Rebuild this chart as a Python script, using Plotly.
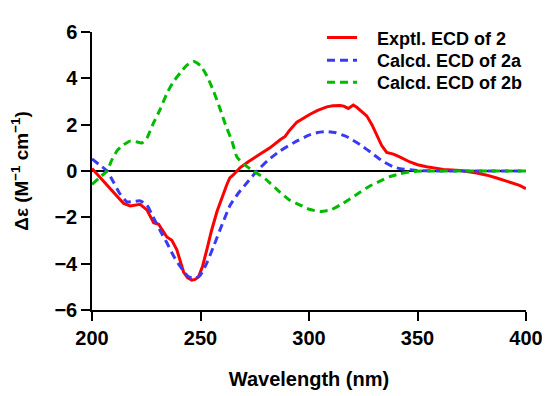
import plotly.graph_objects as go

# Experimental ECD of 2
exp_wl = [200, 203, 206, 210, 214.6, 217.6, 220, 222.2, 225.3, 228.4, 230.7, 234.5, 236.8, 239.1,
          242.2, 244, 246, 247.5, 249.1, 251, 252.9, 255, 257.6, 260, 262.2, 263.5, 265.2, 268.3,
          272, 277.5, 282, 286.7, 289, 291, 294.4, 300.5, 304, 308.2, 311, 314.3, 316, 318.1,
          320.4, 322, 324, 326.6, 329, 331.2, 333.5, 335.8, 338.9, 342, 346.5, 350, 354.2, 361.9,
          369.6, 377.3, 382, 386.5, 390, 394.1, 397, 400]
exp_de = [0.11, -0.2, -0.5, -0.9, -1.4, -1.51, -1.48, -1.44, -1.68, -2.23, -2.3, -2.85, -2.99, -3.4,
          -4.36, -4.6, -4.71, -4.68, -4.57, -4.1, -3.4, -2.6, -1.75, -1.1, -0.57, -0.3, -0.16, 0.15,
          0.4, 0.73, 1.0, 1.35, 1.49, 1.75, 2.11, 2.45, 2.62, 2.77, 2.82, 2.83, 2.8, 2.70,
          2.85, 2.75, 2.6, 2.38, 2.0, 1.56, 1.1, 0.80, 0.73, 0.6, 0.39, 0.27, 0.18, 0.07,
          0.02, -0.09, -0.18, -0.3, -0.4, -0.51, -0.62, -0.76]

# Calculated ECD of 2a
a_wl = [200, 203, 206.9, 210, 213, 216.1, 219, 222.2, 225.3, 228, 231.4, 234.5, 237.6, 240.5,
        243.7, 245.5, 247.6, 249.9, 253, 256, 260, 263.7, 267.5, 271.4, 276, 281, 286.7, 292.8,
        300, 304, 308.2, 312, 317, 323.5, 330, 334, 338.9, 342, 346.5, 350, 360, 370, 380, 390, 400]
a_de = [0.52, 0.3, 0.0, -0.5, -1.0, -1.33, -1.32, -1.29, -1.47, -1.95, -2.57, -3.1, -3.67, -4.1,
        -4.5, -4.6, -4.64, -4.5, -3.95, -3.26, -2.3, -1.47, -0.95, -0.51, 0.0, 0.45, 0.87, 1.21,
        1.55, 1.66, 1.70, 1.66, 1.5, 1.14, 0.7, 0.42, 0.18, 0.1, 0.05, 0.02, 0, 0, 0, 0, 0]

# Calculated ECD of 2b
b_wl = [200, 203.5, 206.9, 209, 211.5, 214, 217.6, 220, 223, 225.3, 228, 231.4, 234.5, 237.5,
        240.7, 243.5, 246.8, 250, 252.9, 256, 259.1, 261.5, 264.5, 266.8, 270.5, 274.4, 280,
        286.7, 291, 295.9, 300, 305.1, 310, 314.3, 319, 323.5, 328, 332.7, 337, 341.9, 348, 355,
        360, 370, 380, 390, 400]
b_de = [-0.58, -0.28, 0.0, 0.45, 0.87, 1.1, 1.29, 1.27, 1.21, 1.42, 2.0, 2.66, 3.35, 3.85,
        4.24, 4.55, 4.73, 4.55, 4.11, 3.45, 2.66, 2.0, 1.29, 0.60, 0.25, 0.0, -0.35,
        -0.92, -1.25, -1.47, -1.65, -1.75, -1.68, -1.47, -1.2, -0.92, -0.65, -0.44, -0.25, -0.12, -0.02, 0,
        0, 0, 0, 0, 0]

x_ticks = [200, 250, 300, 350, 400]
y_ticks = [-6, -4, -2, 0, 2, 4, 6]
y_ticklabels = ["\u22126", "\u22124", "\u22122", "0", "2", "4", "6"]

FONT = "Liberation Sans, Arial, Helvetica, sans-serif"
pad = "\u00a0\u00a0\u00a0"

fig = go.Figure()
fig.add_trace(go.Scatter(x=exp_wl, y=exp_de, mode="lines", name=pad + "Exptl. ECD of 2", legend="legend",
                         line=dict(color="#ff0000", width=3)))
fig.add_trace(go.Scatter(x=a_wl, y=a_de, mode="lines", name=pad + "Calcd. ECD of 2a", legend="legend2",
                         line=dict(color="#3a3af5", width=3, dash="8px,5px", shape="spline", smoothing=0.5)))
fig.add_trace(go.Scatter(x=b_wl, y=b_de, mode="lines", name=pad + "Calcd. ECD of 2b", legend="legend3",
                         line=dict(color="#00bb00", width=3, dash="8px,5px", shape="spline", smoothing=0.5)))

def leg(y):
    return dict(x=0.530, y=y, xanchor="left", yanchor="middle", bgcolor="rgba(0,0,0,0)",
                font=dict(family=FONT, size=18, weight="bold"), itemwidth=30)

# page body adds an 8px offset, margins compensate for it
fig.update_layout(
    width=550, height=396,
    margin=dict(l=84, r=32, t=11, b=94),
    paper_bgcolor="white", plot_bgcolor="white",
    font=dict(family=FONT, color="black", size=18, weight="bold"),
    showlegend=True,
    legend=leg(0.979), legend2=leg(0.897), legend3=leg(0.818),
)
fig.update_xaxes(range=[200, 400], tickvals=x_ticks, ticks="outside", ticklen=9, tickwidth=1.5,
                 tickcolor="black", showline=True, linecolor="black", linewidth=1.5,
                 showgrid=False, zeroline=False, automargin=False,
                 tickfont=dict(size=20, family=FONT, weight="bold"),
                 title=dict(text="Wavelength (nm)", font=dict(size=20, family=FONT, weight="bold"), standoff=24))
fig.update_yaxes(range=[-6, 6], tickvals=y_ticks, ticktext=y_ticklabels, ticks="outside", ticklen=9,
                 tickwidth=1.5, tickcolor="black", showline=True, linecolor="black", linewidth=1.5,
                 showgrid=False, zeroline=True, zerolinecolor="black", zerolinewidth=1.5, automargin=False,
                 tickfont=dict(size=20, family=FONT, weight="bold"),
                 title=dict(text="\u0394\u03b5 (M<sup>\u22121</sup> cm<sup>\u22121</sup>)",
                            font=dict(size=19, family=FONT, weight="bold"), standoff=21))

fig.write_html("out.html")
